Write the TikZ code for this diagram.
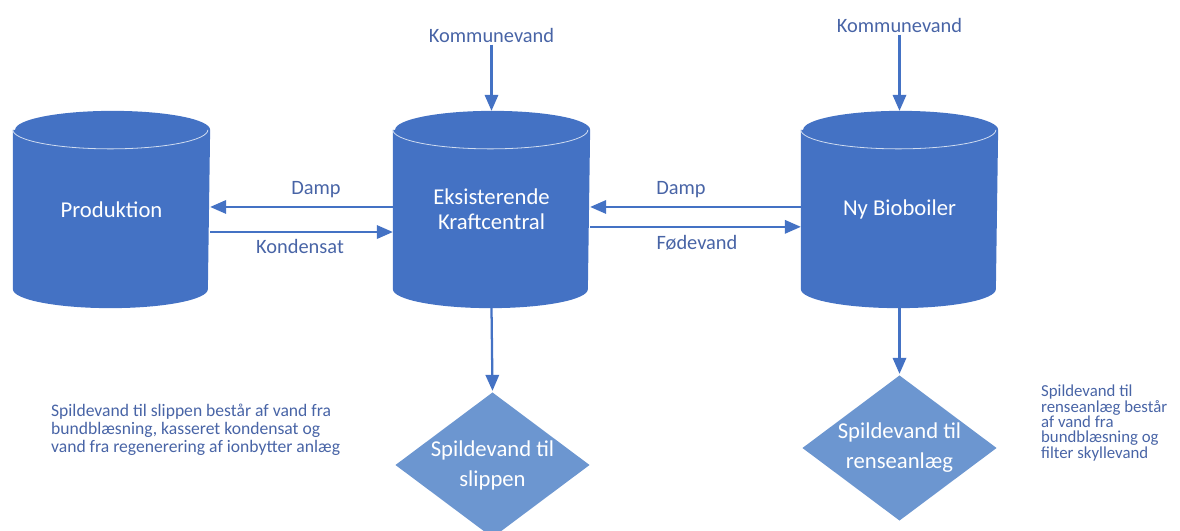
\documentclass[tikz,border=0pt]{standalone}
\usepackage{fontspec}
\setmainfont{Carlito}
\usetikzlibrary{arrows.meta,positioning,shapes.geometric,backgrounds}
\definecolor{tankblue}{RGB}{68,114,196}
\definecolor{valveblue}{RGB}{108,150,208}
\definecolor{labelblue}{RGB}{72,100,166}

\begin{document}
\begin{tikzpicture}[x=0.75pt,y=-0.75pt,>={Triangle[length=12pt,width=10pt]},line width=1.7pt,
    tank/.style={rectangle,minimum width=146.25pt,minimum height=146.25pt,inner sep=0pt,
      text=white,align=center,font=\fontsize{17}{18.75}\selectfont},
    valve/.style={diamond,aspect=1.33,fill=valveblue,minimum width=146.25pt,
      minimum height=109.5pt,inner sep=0pt,text=white,align=center,
      font=\fontsize{17}{22.5}\selectfont},
    lbl/.style={text=labelblue,inner sep=1pt,font=\fontsize{15.3}{16}\selectfont},
    note/.style={text=labelblue,inner sep=0pt,align=left,anchor=west},
    flow/.style={->,draw=tankblue},
    rim/.style={draw=white!75!tankblue,line width=0.6pt}]
  \useasboundingbox (0,0) rectangle (1180,531);

  % tanks
  \node[tank] (kraft) at (491.5,209.5) {Eksisterende\\Kraftcentral};
  \node[tank, left of=kraft, node distance=285pt] (prod) {Produktion};
  \node[tank, right of=kraft, node distance=306pt] (bio) {Ny Bioboiler};
  \begin{scope}[on background layer]
    \foreach \t in {prod,kraft,bio} {
      \fill[tankblue] ([yshift=-14.25pt]\t.north west) -- ([yshift=14.25pt]\t.south west)
        arc[start angle=180,end angle=360,x radius=73.125pt,y radius=14.25pt]
        -- ([yshift=-14.25pt]\t.north east)
        arc[start angle=0,end angle=180,x radius=73.125pt,y radius=14.25pt] -- cycle;
      \draw[rim] ([yshift=-14.25pt]\t.north west)
        arc[start angle=180,end angle=360,x radius=73.125pt,y radius=14.25pt];
    }
  \end{scope}

  % waste water
  \node[valve] (slip) at (492.5,465) {Spildevand til\\slippen};
  \node[valve] (rens) at (899.5,448) {Spildevand til\\renseanlæg};

  % labels
  \node[lbl] (kom1) at (491.5,35) {Kommunevand};
  \node[lbl] (kom2) at (899.5,25) {Kommunevand};
  \node[lbl] (damp1) at (316,190) {Damp};
  \node[lbl] (kond) at (300,246) {Kondensat};
  \node[lbl] (damp2) at (681,190) {Damp};
  \node[lbl] (foede) at (697,243) {Fødevand};

  \draw[flow] (kom1) -- (kraft.north);
  \draw[flow] (kom2) -- (bio.north);
  \draw[flow] ([yshift=1.9pt]kraft.west) -- ([yshift=1.9pt]prod.east);
  \draw[flow] ([yshift=-16.9pt]prod.east) -- ([yshift=-16.9pt]kraft.west);
  \draw[flow] ([yshift=1.9pt]bio.west) -- ([yshift=1.9pt]kraft.east);
  \draw[flow] ([yshift=-13pt]kraft.east) -- ([yshift=-13pt]bio.west);
  \draw[flow] (kraft.south) -- (slip.north);
  \draw[flow] (bio.south) -- (rens.north);

  % notes
  \node[note,font={\fontsize{13.2}{13.6}\selectfont\lineskiplimit=-\maxdimen}] (noteslip) at (50,430)
    {Spildevand til slippen består af vand fra\\bundblæsning, kasseret kondensat og\\vand fra regenerering af ionbytter anlæg};
  \node[note,font={\fontsize{12.6}{11.6}\selectfont}] (noterens) at (1040,423)
    {Spildevand til\\renseanlæg består\\af vand fra\\bundblæsning og\\filter skyllevand};
\end{tikzpicture}
\end{document}
